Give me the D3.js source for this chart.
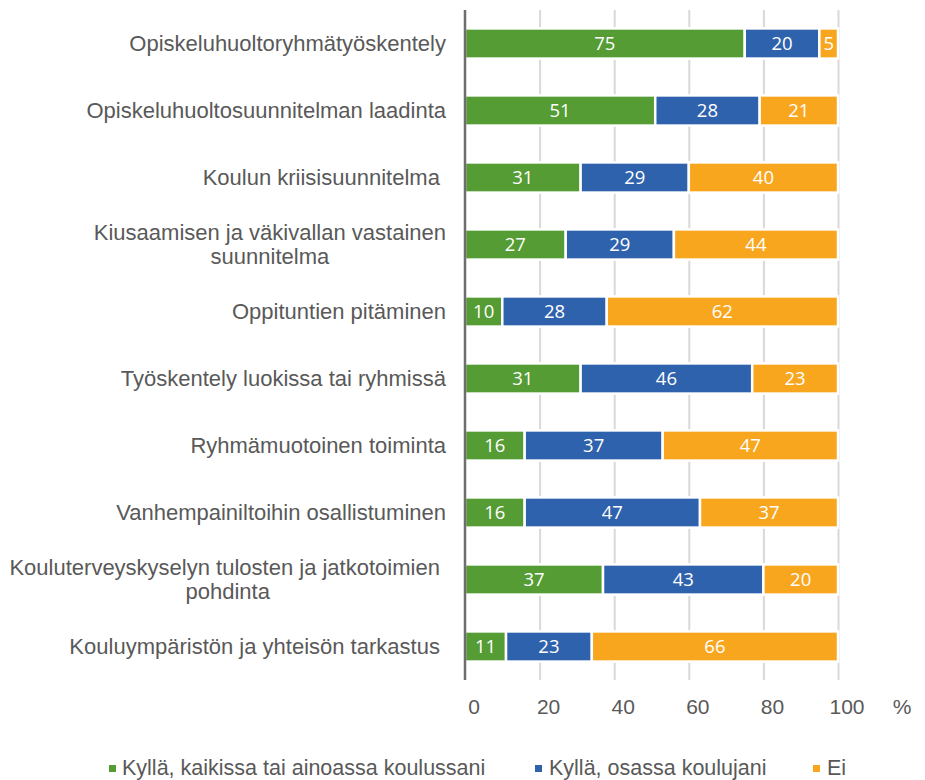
<!DOCTYPE html>
<html>
<head>
<meta charset="utf-8">
<script src="https://cdn.jsdelivr.net/npm/d3@7"></script>
<style>
  html, body { margin: 0; padding: 0; background: #fff; }
  svg { display: block; }
  text { white-space: pre; }
</style>
</head>
<body>
<svg id="chart" width="925" height="780"></svg>
<script>
// ---- Data ----
const categories = [
  ["Opiskeluhuoltoryhmätyöskentely"],
  ["Opiskeluhuoltosuunnitelman laadinta"],
  ["Koulun kriisisuunnitelma "],
  ["Kiusaamisen ja väkivallan vastainen", "suunnitelma"],
  ["Oppituntien pitäminen"],
  ["Työskentely luokissa tai ryhmissä"],
  ["Ryhmämuotoinen toiminta"],
  ["Vanhempainiltoihin osallistuminen"],
  ["Kouluterveyskyselyn tulosten ja jatkotoimien ", "pohdinta"],
  ["Kouluympäristön ja yhteisön tarkastus "]
];
const kyllaKaikissa = [75, 51, 31, 27, 10, 31, 16, 16, 37, 11];
const kyllaOsassa   = [20, 28, 29, 29, 28, 46, 37, 47, 43, 23];
const ei            = [5, 21, 40, 44, 62, 23, 47, 37, 20, 66];
const seriesNames = ["Kyllä, kaikissa tai ainoassa koulussani", "Kyllä, osassa koulujani", "Ei"];
const seriesColors = ["#549c33", "#2f62ad", "#f9a61f"];
const xTicks = [0, 20, 40, 60, 80, 100];
const unitLabel = "%";

// ---- Layout ----
const svg = d3.select("#chart");
const plotLeft = 465, plotRight = 838, plotTop = 10, plotBottom = 680;
const x = d3.scaleLinear().domain([0, 100]).range([plotLeft, plotRight]);
const catKeys = categories.map(c => c.join(" "));
const y = d3.scaleBand().domain(catKeys).range([plotTop, plotBottom])
  .paddingInner(0.55).paddingOuter(0.275);

const series = [kyllaKaikissa, kyllaOsassa, ei];
const rows = catKeys.map((k, i) => ({ key: k, lines: categories[i], vals: series.map(s => s[i]) }));
const stack = d3.stack().keys([0, 1, 2]).value((d, k) => d.vals[k]);
const stacked = stack(rows);

// Gridlines via axis
const gAxis = svg.append("g").attr("transform", `translate(0,${plotBottom})`)
  .call(d3.axisBottom(x).tickValues(xTicks).tickSize(-(plotBottom - plotTop)).tickFormat(d3.format("d")));
gAxis.select(".domain").remove();
gAxis.selectAll(".tick line").attr("stroke", "#d9d9d9").attr("stroke-width", 2)
  .attr("opacity", d => d === 0 ? 0 : 1);
gAxis.selectAll(".tick text")
  .attr("y", 34).attr("dy", 0).attr("dx", 8.5)
  .attr("fill", "#595959")
  .style("font-family", "'Liberation Sans', Arial, sans-serif")
  .style("font-size", "21px");

svg.append("text")
  .attr("x", 902).attr("y", 714)
  .attr("text-anchor", "middle")
  .attr("fill", "#595959")
  .style("font-family", "'Liberation Sans', Arial, sans-serif")
  .style("font-size", "21px")
  .text(unitLabel);

// Bars
const gBars = svg.append("g");
stacked.forEach((layer, si) => {
  gBars.selectAll(null).data(layer).enter().append("rect")
    .attr("x", d => x(d[0]))
    .attr("y", d => y(d.data.key))
    .attr("width", d => x(d[1]) - x(d[0]))
    .attr("height", y.bandwidth())
    .attr("fill", seriesColors[si])
    .attr("stroke", "#ffffff")
    .attr("stroke-width", 2.5);
});

// Data labels
stacked.forEach((layer, si) => {
  gBars.selectAll(null).data(layer).enter().append("text")
    .attr("x", d => (x(d[0]) + x(d[1])) / 2)
    .attr("y", d => y(d.data.key) + y.bandwidth() / 2)
    .attr("dy", "0.36em")
    .attr("text-anchor", "middle")
    .attr("fill", "#ffffff")
    .style("font-family", "'Open Sans', sans-serif")
    .style("font-size", "18.5px")
    .text(d => d.data.vals[si]);
});

// Vertical axis line
svg.append("line")
  .attr("x1", x(0)).attr("x2", x(0))
  .attr("y1", plotTop).attr("y2", plotBottom)
  .attr("stroke", "#6e6e6e").attr("stroke-width", 2.5);

// Category labels
const labelRight = 446, lineH = 24;
const gLab = svg.append("g")
  .style("font-family", "'Liberation Sans', Arial, sans-serif")
  .style("font-size", "22px")
  .attr("fill", "#595959");
rows.forEach(r => {
  const cy = y(r.key) + y.bandwidth() / 2;
  const n = r.lines.length;
  const t = gLab.append("text").attr("text-anchor", "middle");
  const spans = r.lines.map((ln, i) => t.append("tspan")
    .attr("y", cy + (i - (n - 1) / 2) * lineH)
    .attr("dy", "0.35em")
    .text(ln));
  let maxW = 0;
  spans.forEach(s => { maxW = Math.max(maxW, s.node().getComputedTextLength()); });
  const cx = labelRight - maxW / 2;
  spans.forEach(s => s.attr("x", cx));
});

// Legend
const legendItems = [
  { sq: 109, tx: 122 },
  { sq: 535, tx: 549 },
  { sq: 813, tx: 827 }
];
const gLeg = svg.append("g");
seriesNames.forEach((name, i) => {
  gLeg.append("rect")
    .attr("x", legendItems[i].sq).attr("y", 765)
    .attr("width", 7).attr("height", 7)
    .attr("fill", seriesColors[i]);
  gLeg.append("text")
    .attr("x", legendItems[i].tx).attr("y", 775)
    .attr("fill", "#595959")
    .style("font-family", "'Liberation Sans', Arial, sans-serif")
    .style("font-size", "21.5px")
    .text(name);
});
</script>
</body>
</html>
